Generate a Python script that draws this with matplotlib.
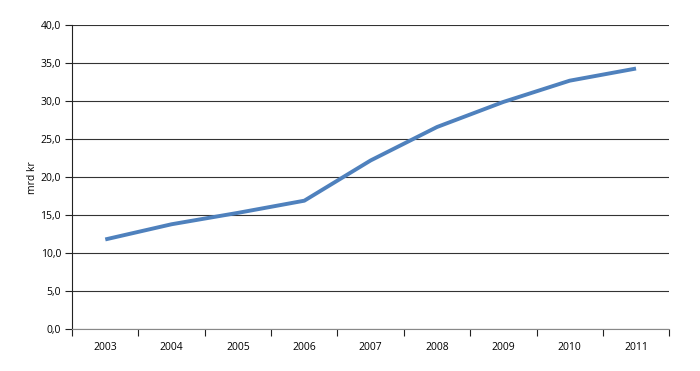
import matplotlib
matplotlib.use("Agg")
import matplotlib.pyplot as plt
from matplotlib.ticker import FuncFormatter, FixedLocator

years = ["2003", "2004", "2005", "2006", "2007", "2008", "2009", "2010", "2011"]
values = [11.8, 13.8, 15.3, 16.9, 22.2, 26.6, 29.9, 32.7, 34.3]

plt.rcParams['font.family'] = ['Open Sans', 'DejaVu Sans']

fig = plt.figure(figsize=(7, 3.71), dpi=100)
ax = fig.add_axes([0.103, 0.113, 0.853, 0.819])

x = list(range(len(years)))
ax.plot(x, values, color="#4f81bd", lw=2.8, solid_capstyle="butt", zorder=3)

ax.set_xlim(-0.5, len(years) - 0.5)
ax.set_ylim(0, 40)
ax.set_yticks(range(0, 41, 5))
ax.yaxis.set_major_formatter(FuncFormatter(lambda v, p: f"{v:.1f}".replace(".", ",")))
ax.set_xticks(x)
ax.set_xticklabels(years)
ax.xaxis.set_minor_locator(FixedLocator([i - 0.5 for i in range(len(years) + 1)]))
ax.tick_params(axis="x", which="major", length=0, pad=9, labelsize=7.5)
ax.tick_params(axis="x", which="minor", length=5, width=0.8, color="#222222")
ax.tick_params(axis="y", length=5, width=0.8, color="#222222", labelsize=7.5, pad=3)

ax.grid(axis="y", color="#333333", lw=0.8)
ax.set_axisbelow(True)
for s in ["top", "right"]:
    ax.spines[s].set_visible(False)
ax.spines["left"].set_color("#222222")
ax.spines["left"].set_linewidth(0.8)
ax.spines["bottom"].set_color("#888888")
ax.spines["bottom"].set_linewidth(0.8)

ax.set_ylabel("mrd kr", fontsize=7.5, labelpad=2)

fig.savefig("out.png", dpi=100)
